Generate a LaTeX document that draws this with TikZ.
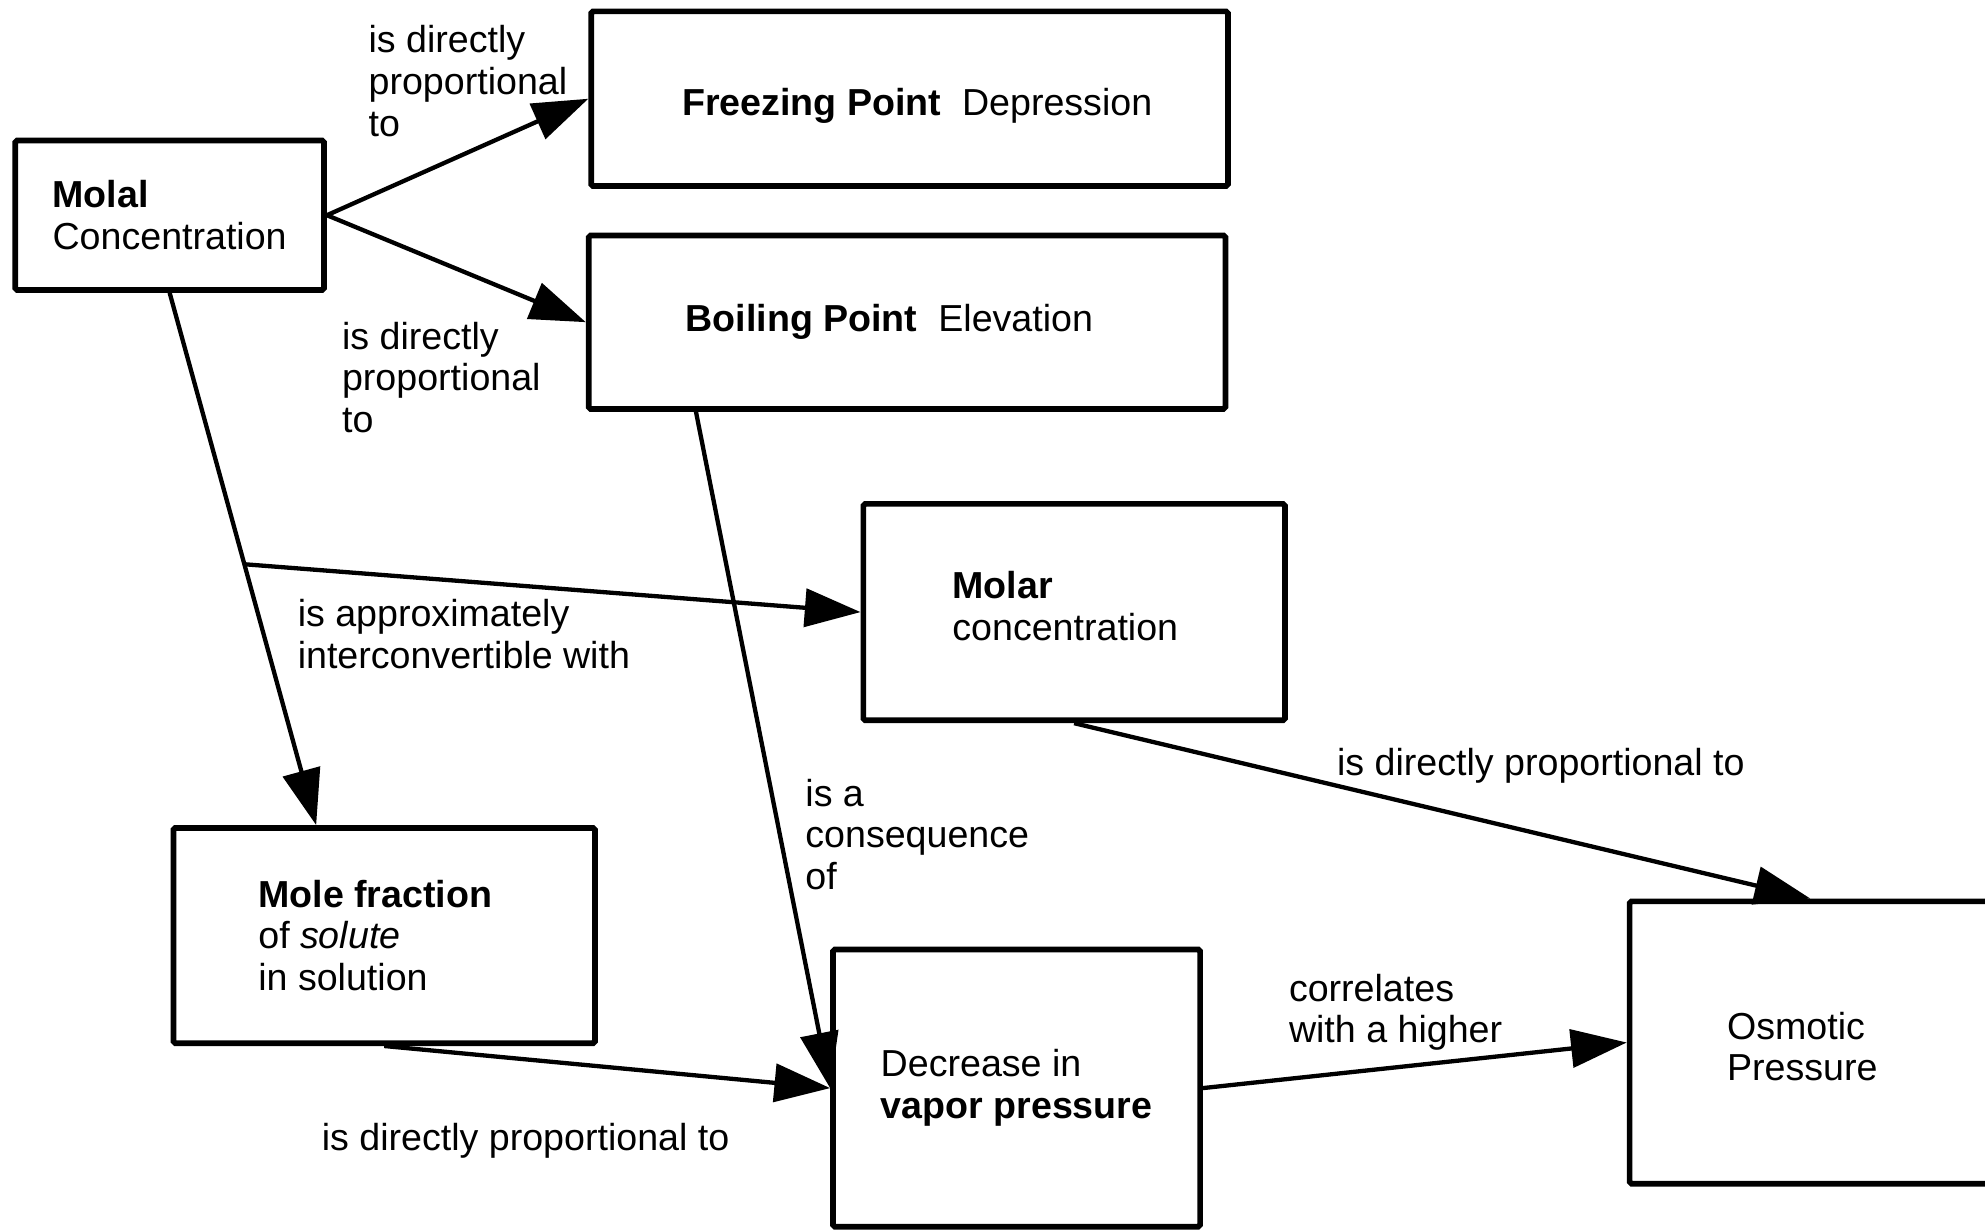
\documentclass[tikz,border=0pt]{standalone}
\usepackage{fontspec}
\setmainfont{Liberation Sans}
\usetikzlibrary{arrows.meta,calc}
\begin{document}
\begin{tikzpicture}[x=1pt,y=-1pt,
  box/.style={draw, line width=4.5pt, rounded corners=1.5pt, align=left, inner sep=0pt,
    font=\fontsize{29.7}{33}\selectfont},
  lbl/.style={anchor=north west, inner sep=0pt, align=left, font=\fontsize{29.7}{33}\selectfont},
  arr/.style={line width=3.4pt, -{Triangle[length=44pt,width=30pt]}}]
\useasboundingbox (0,0) rectangle (1568,972);
\fill[white] (0,0) rectangle (1568,972);
% boxes
\node[box, minimum width=244, minimum height=118] (molal) at (134,170) {\textbf{Molal}\\Concentration};
\node[box, minimum width=503, minimum height=138] (freeze) at (718.5,78) {\hspace*{12pt}\rule{0pt}{32pt}\textbf{Freezing Point}\ \ Depression};
\node[box, minimum width=503, minimum height=137] (boil) at (716.5,254.5) {\textbf{Boiling Point}\ \ Elevation\hspace*{28pt}};
\node[box, minimum width=333, minimum height=171] (molar) at (848.5,483.5) {\textbf{Molar}\\concentration\hspace*{14pt}\rule[-10pt]{0pt}{10pt}};
\node[box, minimum width=333, minimum height=170] (molefrac) at (303.5,739) {\textbf{Mole fraction}\hspace*{14pt}\\of \textit{solute}\\in solution};
\node[box, minimum width=290, minimum height=219] (decrease) at (803,859.5) {Decrease in\\\textbf{vapor pressure}};
\node[box, anchor=west, text width=300pt, inner xsep=77pt, minimum height=223] (osm) at (1285,823.5) {\rule{0pt}{28pt}Osmotic\\Pressure};
% connectors
\draw[arr] (molal.east) -- (freeze.west);
\draw[arr] (molal.east) -- (boil.west);
\draw[arr] (molal.south) -- coordinate[pos=0.51] (split) ([xshift=115pt]molefrac.north west);
\draw[arr] (split) -- (molar.west);
\draw[arr] ([xshift=87pt]boil.south west) -- (decrease.west);
\draw[arr] (molefrac.south) -- (decrease.west);
\draw[arr] (molar.south) -- ([xshift=145pt]osm.north west);
\draw[arr] (decrease.east) -- (osm.west);
% labels
\node[lbl] (l1) at (291,20) {is directly\\proportional\\to};
\node[lbl] (l2) at (270,254) {is directly\\proportional\\to};
\node[lbl] (l3) at (235,473) {is approximately\\interconvertible with};
\node[lbl] (l4) at (636,615) {is a\\consequence\\of};
\node[lbl] (l5) at (254,887) {is directly proportional to};
\node[lbl] (l6) at (1056,591) {is directly proportional to};
\node[lbl] (l7) at (1018,769) {correlates\\with a higher};
\end{tikzpicture}
\end{document}
